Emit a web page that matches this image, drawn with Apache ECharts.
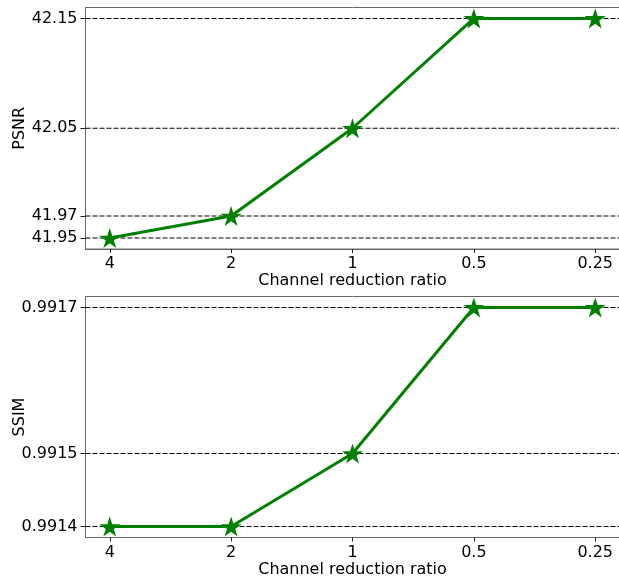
<!DOCTYPE html>
<html>
<head>
<meta charset="utf-8">
<script src="https://cdn.jsdelivr.net/npm/echarts@6/dist/echarts.min.js"></script>
<style>html,body{margin:0;padding:0;background:#fff;}#c{width:619px;height:578px;}</style>
</head>
<body>
<div id="c"></div>
<script>
const ratioLabels = ['4', '2', '1', '0.5', '0.25'];
const psnr = [41.95, 41.97, 42.05, 42.15, 42.15];
const ssim = [0.9914, 0.9914, 0.9915, 0.9917, 0.9917];
const psnrTicks = [41.95, 41.97, 42.05, 42.15];
const ssimTicks = [0.9914, 0.9915, 0.9917];
const xIdx = ratioLabels.map((_, i) => i);
const X_MIN = -0.2, X_MAX = 4.2;

const STAR = 'path://M50,0 L61.23,34.55 L97.55,34.55 L68.17,55.9 L79.39,90.45 L50,69.1 L20.61,90.45 L31.83,55.9 L2.45,34.55 L38.77,34.55 Z';
const FONT = 'DejaVu Sans';
const spine = '#666';

function xAxis(gi) {
  return {
    type: 'value', gridIndex: gi, min: X_MIN, max: X_MAX,
    name: 'Channel reduction ratio', nameLocation: 'middle', nameGap: 24, nameMoveOverlap: false,
    nameTextStyle: { fontFamily: FONT, fontSize: 16, color: '#000' },
    axisLine: { show: true, onZero: false, lineStyle: { color: spine, width: 1 } },
    axisTick: { show: true, length: 4, customValues: xIdx, lineStyle: { color: '#222' } },
    axisLabel: { customValues: xIdx, margin: 7, fontFamily: FONT, fontSize: 16, color: '#000',
      formatter: v => ratioLabels[Math.round(v)] },
    splitLine: { show: false }
  };
}
function yAxis(gi, name, mn, mx, ticks, dec) {
  return {
    type: 'value', gridIndex: gi, min: mn, max: mx,
    name: name, nameLocation: 'middle', nameGap: 58, nameRotate: 90, nameMoveOverlap: false,
    nameTextStyle: { fontFamily: FONT, fontSize: 16, color: '#000' },
    axisLine: { show: true, onZero: false, lineStyle: { color: spine, width: 1 } },
    axisTick: { show: true, length: 5, customValues: ticks, lineStyle: { color: '#222', width: 1 } },
    axisLabel: { customValues: ticks, margin: 8, fontFamily: FONT, fontSize: 16, color: '#000',
      formatter: v => Number(v).toFixed(dec) },
    splitLine: { show: false }
  };
}
function refLines(gi, ticks) {
  return ticks.map(t => ({
    type: 'line', xAxisIndex: gi, yAxisIndex: gi, z: 1, silent: true,
    symbol: 'none', data: [[X_MIN, t], [X_MAX, t]],
    lineStyle: { color: '#000', type: [5, 2], width: 1.1 },
    emphasis: { disabled: true }
  }));
}
function series(gi, vals) {
  return {
    type: 'line', xAxisIndex: gi, yAxisIndex: gi, z: 3,
    data: vals.map((v, i) => [i, v]),
    symbol: STAR, symbolSize: 21, symbolKeepAspect: true,
    lineStyle: { color: '#008000', width: 3 },
    itemStyle: { color: '#008000' }
  };
}

const chart = echarts.init(document.getElementById('c'));
chart.setOption({
  animation: false,
  backgroundColor: '#fff',
  grid: [
    { left: 85.5, top: 7.5, width: 534, height: 241.5, show: true, borderColor: spine, borderWidth: 1, outerBoundsMode: 'none', containLabel: false },
    { left: 85.5, top: 296.5, width: 534, height: 241, show: true, borderColor: spine, borderWidth: 1, outerBoundsMode: 'none', containLabel: false }
  ],
  xAxis: [xAxis(0), xAxis(1)],
  yAxis: [
    yAxis(0, 'PSNR', 41.94, 42.16, psnrTicks, 2),
    yAxis(1, 'SSIM', 0.991385, 0.991715, ssimTicks, 4)
  ],
  series: [
    ...refLines(0, psnrTicks), ...refLines(1, ssimTicks),
    series(0, psnr), series(1, ssim)
  ]
});
</script>
</body>
</html>
